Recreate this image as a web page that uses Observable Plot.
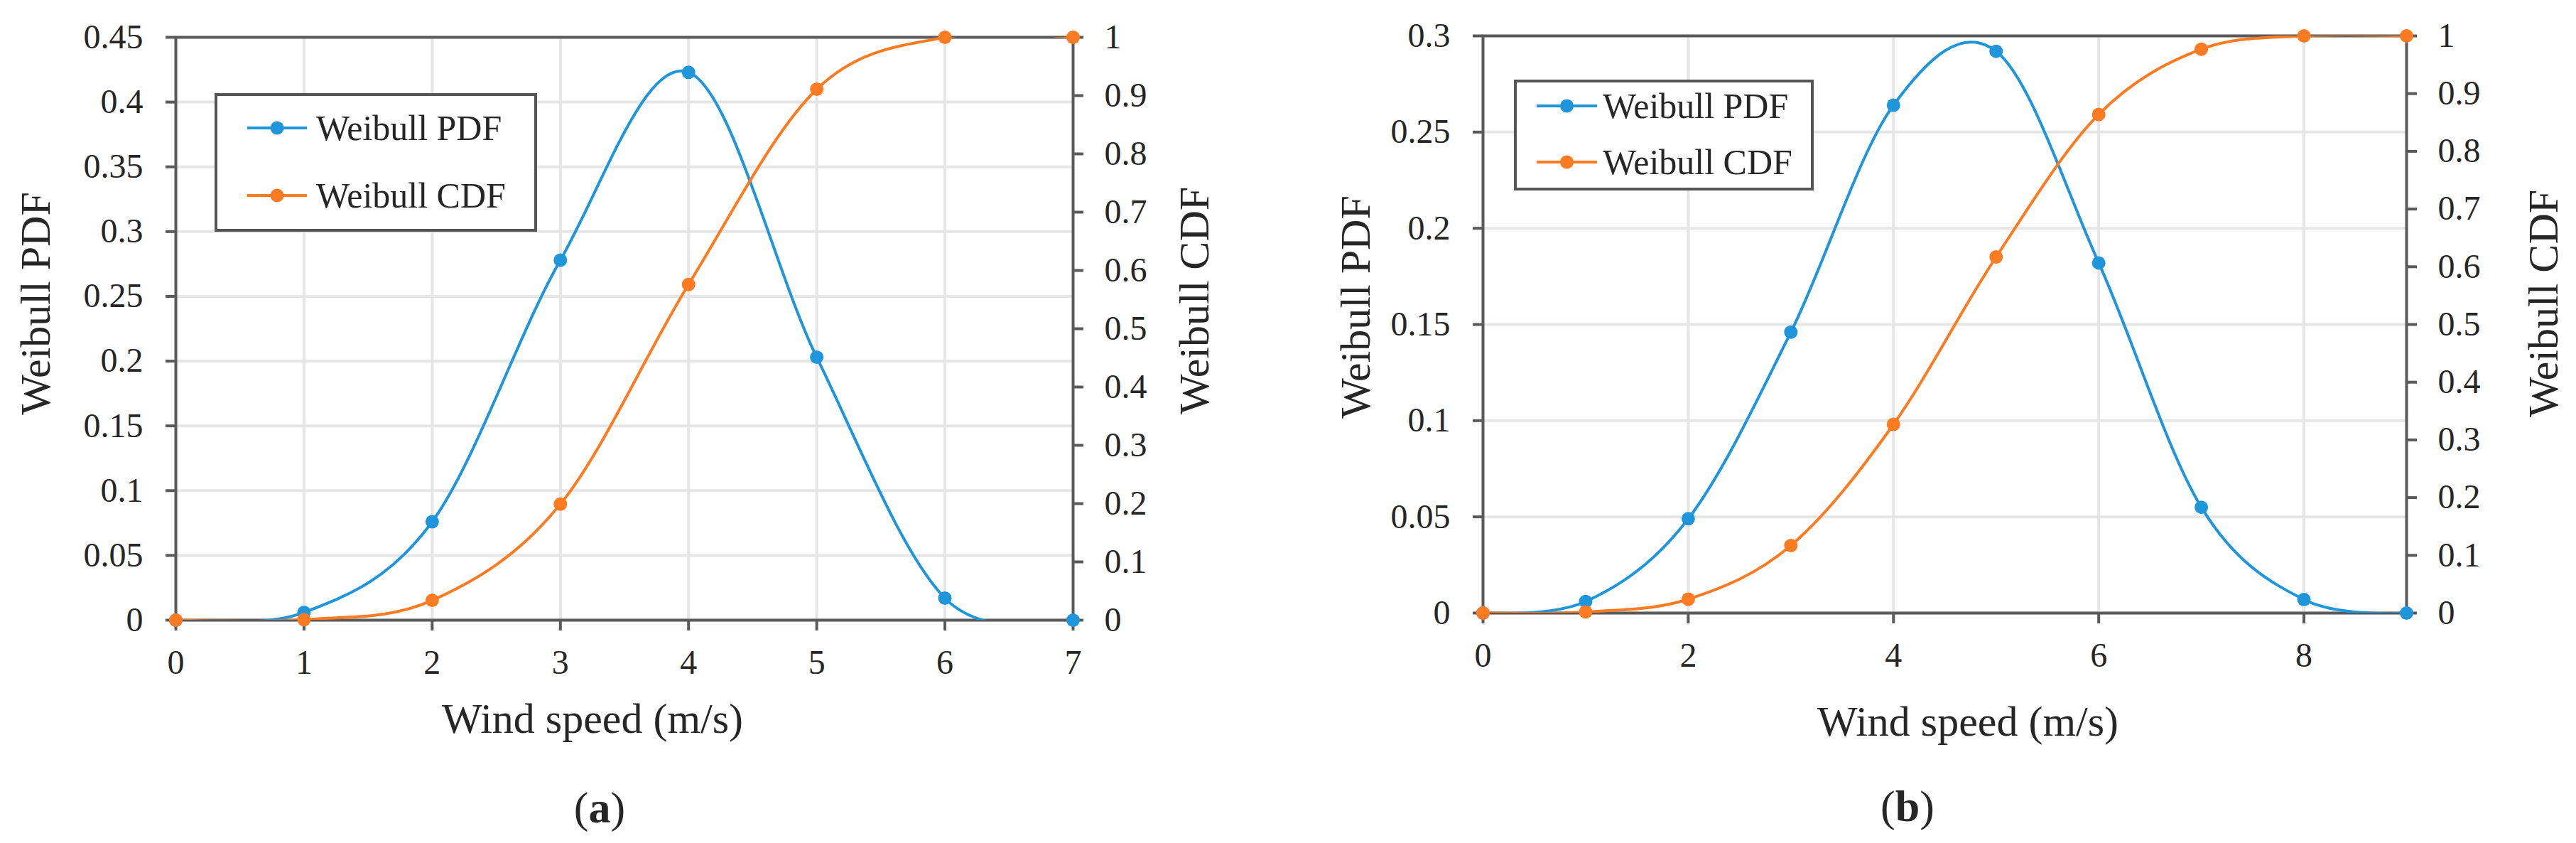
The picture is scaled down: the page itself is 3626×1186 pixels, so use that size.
<!DOCTYPE html>
<html><head><meta charset="utf-8">
<script src="https://cdn.jsdelivr.net/npm/d3@7"></script>
<script src="https://cdn.jsdelivr.net/npm/@observablehq/plot@0.6"></script>
<style>
body{margin:0;background:#fff;}
#wrap{position:relative;width:3626px;height:1186px;overflow:hidden;font-family:"Liberation Serif","Times New Roman","DejaVu Serif",serif;color:#262626;background:#fff;}
#wrap svg text{font-family:"Liberation Serif","Times New Roman","DejaVu Serif",serif;}
.panel{position:absolute;top:0;}
.lbl{position:absolute;white-space:nowrap;line-height:1;transform:translate(-50%,-50%);}
.rot{transform:translate(-50%,-50%) rotate(-90deg);}
.legend{position:absolute;border:4px solid #555;box-sizing:border-box;background:#fff;}
</style></head><body><div id="wrap"></div>
<script>
// ---- data ----
const seriesNames = ["Weibull PDF", "Weibull CDF"];
const seriesColors = ["#1f96db", "#ff7b22"];
const xLabel = "Wind speed (m/s)";
const yLabelLeft = "Weibull PDF";
const yLabelRight = "Weibull CDF";
const captions = ["a", "b"];

const speedA = [0, 1, 2, 3, 4, 5, 6, 7];
const pdfA = [0, 0.006, 0.076, 0.278, 0.423, 0.203, 0.017, 0];
const cdfA = [0, 0.001, 0.034, 0.199, 0.576, 0.911, 1, 1];
const yTicksA = [0, 0.05, 0.1, 0.15, 0.2, 0.25, 0.3, 0.35, 0.4, 0.45];
const xTicksA = [0, 1, 2, 3, 4, 5, 6, 7];

const speedB = [0, 1, 2, 3, 4, 5, 6, 7, 8, 9];
const pdfB = [0, 0.006, 0.049, 0.146, 0.264, 0.292, 0.182, 0.055, 0.007, 0];
const cdfB = [0, 0.002, 0.024, 0.117, 0.327, 0.617, 0.864, 0.977, 1, 1];
const yTicksB = [0, 0.05, 0.1, 0.15, 0.2, 0.25, 0.3];
const xTicksB = [0, 2, 4, 6, 8];

const cdfTicks = [0, 0.1, 0.2, 0.3, 0.4, 0.5, 0.6, 0.7, 0.8, 0.9, 1];

const FONT = "Liberation Serif, Times New Roman, DejaVu Serif, serif";

// ---- chart builder ----
function chart(cfg) {
  const {speed, pdf, cdf, yTicks, xTicks, xMax, yMax, width, mL, mR, mT, mB} = cfg;
  const data = speed.map((s, i) => ({s, pdf: pdf[i], cdf: cdf[i]}));
  const axisStyle = {stroke: "#5a5a5a", strokeWidth: 4, fontSize: 48, fontFamily: FONT, fill: "#262626", label: null};
  return Plot.plot({
    width, height: 1186,
    marginLeft: mL, marginRight: mR, marginTop: mT, marginBottom: mB,
    x: {domain: [0, xMax]},
    y: {domain: [0, yMax]},
    style: {fontFamily: FONT, color: "#262626", background: "transparent", overflow: "visible"},
    marks: [
      Plot.gridY(yTicks, {stroke: "#e6e6e6", strokeWidth: 4, strokeOpacity: 1}),
      Plot.gridX(xTicks.filter(t => t > 0 && t < xMax), {stroke: "#e6e6e6", strokeWidth: 4, strokeOpacity: 1}),
      Plot.frame({stroke: "#5a5a5a", strokeWidth: 4}),
      Plot.axisY(yTicks, {...axisStyle, anchor: "left", tickSize: 14, tickPadding: 32,
        tickFormat: d => String(+d.toFixed(2))}),
      Plot.axisY(cdfTicks.map(v => v * yMax), {...axisStyle, anchor: "right", tickSize: 14, tickPadding: 30,
        tickFormat: d => String(+(d / yMax).toFixed(1))}),
      Plot.axisX(xTicks, {...axisStyle, anchor: "bottom", tickSize: 15, tickPadding: 26,
        tickFormat: d => String(d)}),
      Plot.line(data, {x: "s", y: "pdf", stroke: seriesColors[0], strokeWidth: 4, curve: "cardinal", clip: true}),
      Plot.line(data, {x: "s", y: d => d.cdf * yMax, stroke: seriesColors[1], strokeWidth: 4, curve: "cardinal", clip: true}),
      Plot.dot(data, {x: "s", y: "pdf", r: 9.5, fill: seriesColors[0]}),
      Plot.dot(data, {x: "s", y: d => d.cdf * yMax, r: 9.5, fill: seriesColors[1]})
    ]
  });
}

const wrap = document.getElementById("wrap");

function place(el, left) {
  el.classList.add("panel");
  el.style.left = left + "px";
  wrap.appendChild(el);
}

place(chart({speed: speedA, pdf: pdfA, cdf: cdfA, yTicks: yTicksA, xTicks: xTicksA, xMax: 7, yMax: 0.45,
  width: 1813, mL: 247, mR: 303, mT: 52, mB: 314}), 0);
place(chart({speed: speedB, pdf: pdfB, cdf: cdfB, yTicks: yTicksB, xTicks: xTicksB, xMax: 9, yMax: 0.3,
  width: 1813, mL: 274, mR: 239, mT: 50, mB: 324}), 1813);

// ---- text labels ----
function label(text, cx, cy, size, rotate, html) {
  const d = document.createElement("div");
  d.className = "lbl" + (rotate ? " rot" : "");
  d.style.left = cx + "px";
  d.style.top = cy + "px";
  d.style.fontSize = size + "px";
  if (html) d.innerHTML = text; else d.textContent = text;
  wrap.appendChild(d);
}
label(yLabelLeft, 50, 427, 60, true);
label(yLabelRight, 1681, 423, 60, true);
label(xLabel, 834, 1011, 60, false);
label("(<b>" + captions[0] + "</b>)", 844, 1136, 62, false, true);
label(yLabelLeft, 1908, 432, 60, true);
label(yLabelRight, 3580, 427, 60, true);
label(xLabel, 2770, 1015, 60, false);
label("(<b>" + captions[1] + "</b>)", 2685, 1134, 62, false, true);

// ---- legends ----
function legend(box, rowsY, lineX0, lineX1, textX, size) {
  const b = document.createElement("div");
  b.className = "legend";
  Object.assign(b.style, {left: box[0] + "px", top: box[1] + "px", width: box[2] + "px", height: box[3] + "px"});
  wrap.appendChild(b);
  seriesNames.forEach((name, i) => {
    const svg = document.createElementNS("http://www.w3.org/2000/svg", "svg");
    svg.setAttribute("width", lineX1 - lineX0 + 4);
    svg.setAttribute("height", 24);
    svg.style.position = "absolute";
    svg.style.left = (lineX0 - 2) + "px";
    svg.style.top = (rowsY[i] - 12) + "px";
    const w = lineX1 - lineX0;
    svg.innerHTML = `<line x1="2" x2="${w + 2}" y1="12" y2="12" stroke="${seriesColors[i]}" stroke-width="4"/>` +
      `<circle cx="${w / 2 + 2}" cy="12" r="9.5" fill="${seriesColors[i]}"/>`;
    wrap.appendChild(svg);
    const t = document.createElement("div");
    t.className = "lbl";
    Object.assign(t.style, {left: textX + "px", top: rowsY[i] + "px", fontSize: size + "px", transform: "translate(0,-50%)"});
    t.textContent = name;
    wrap.appendChild(t);
  });
}
legend([302, 131, 454, 195], [180, 275], 348, 432, 445, 50);
legend([2131, 112, 422, 156], [149, 228], 2163, 2248, 2256, 50);
</script></body></html>
